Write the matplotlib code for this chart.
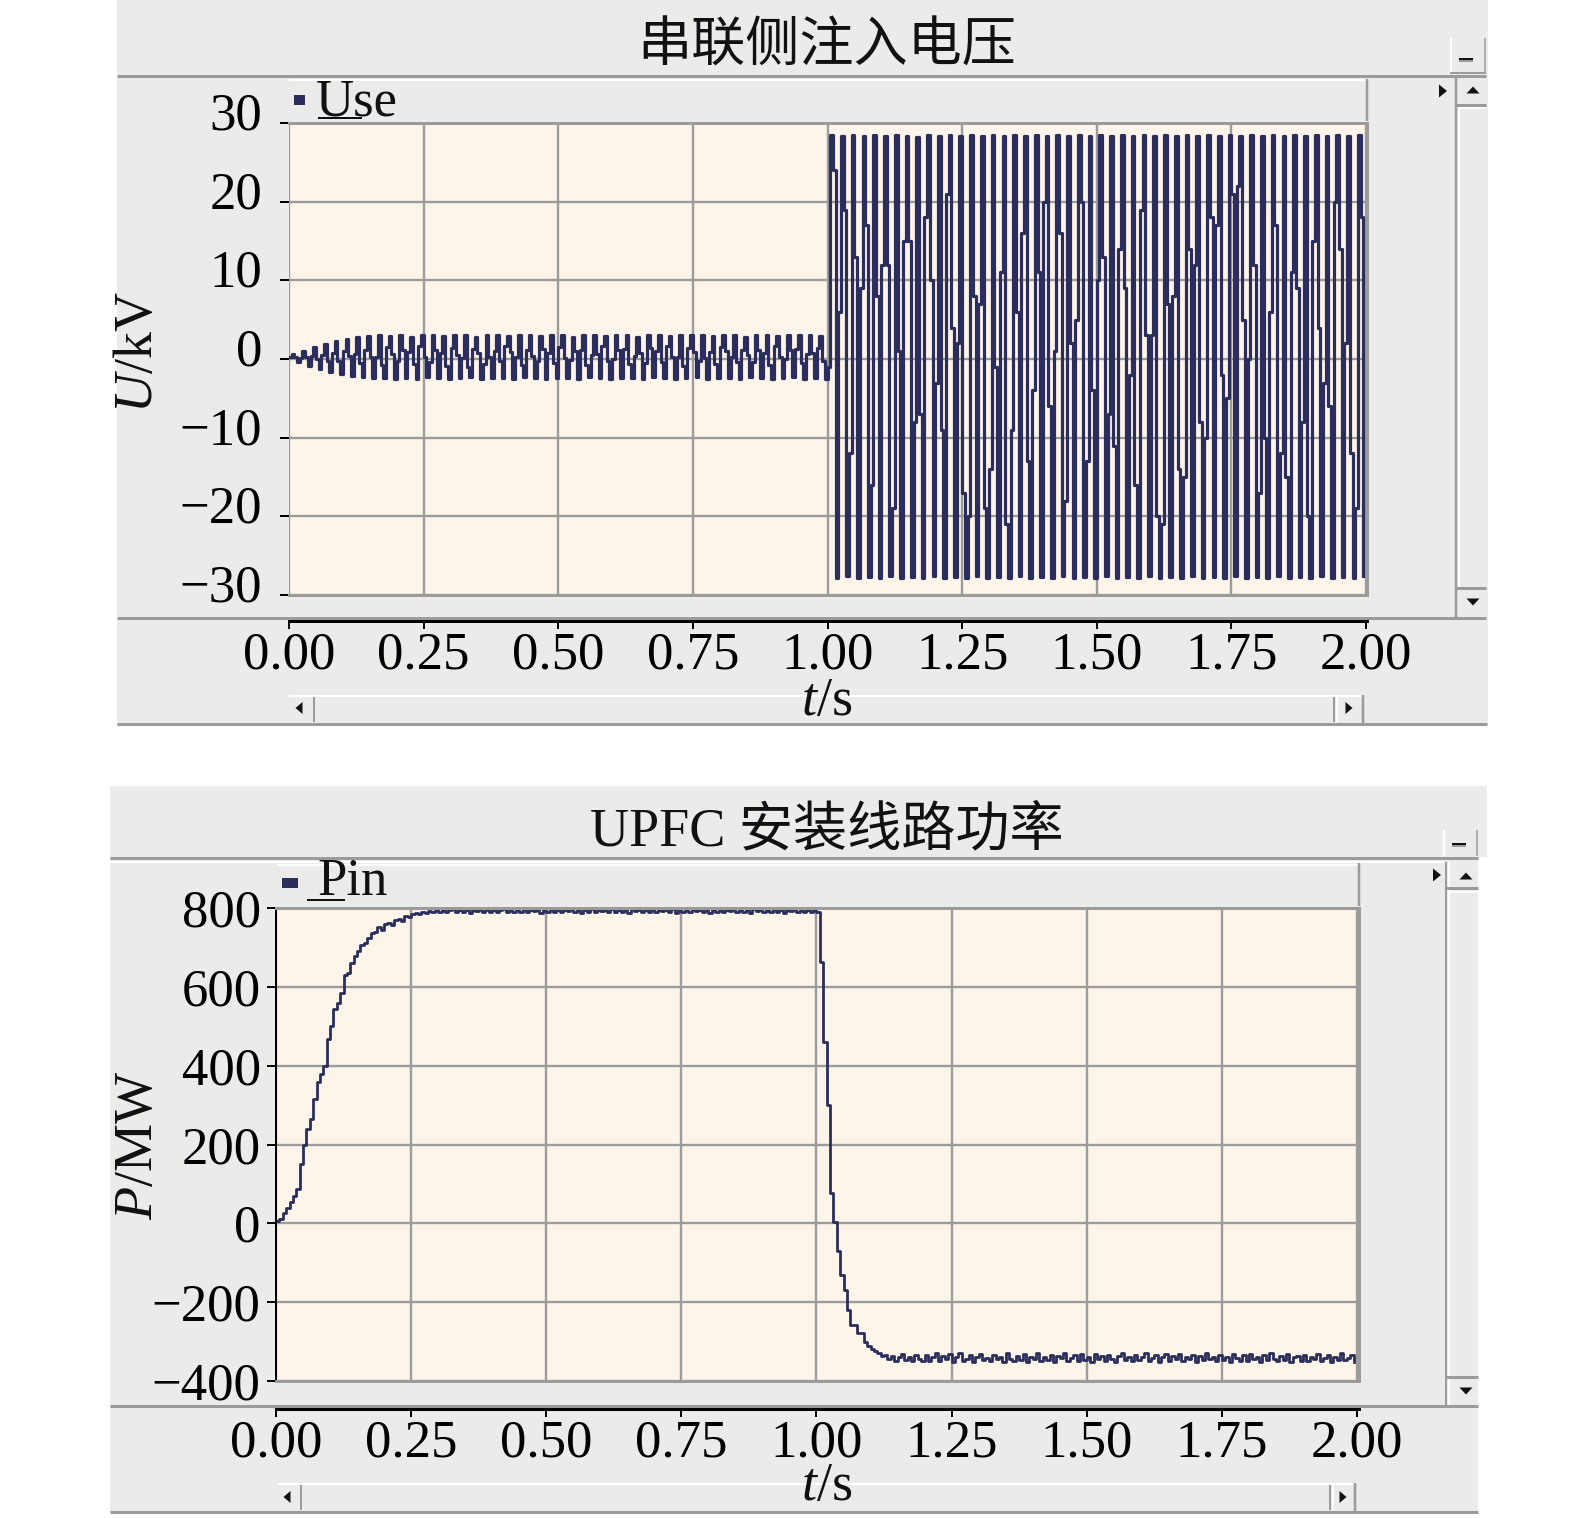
import numpy as np
import matplotlib
matplotlib.use('Agg')
import matplotlib.pyplot as plt
from matplotlib.patches import Rectangle, Polygon
from matplotlib.lines import Line2D
import matplotlib.transforms as mtransforms

plt.rcParams['font.family'] = ['Liberation Serif', 'Noto Sans CJK SC']
plt.rcParams['mathtext.fontset'] = 'custom'
plt.rcParams['mathtext.rm'] = 'Liberation Serif'
plt.rcParams['mathtext.it'] = 'Liberation Serif:italic'

# ---------------- data ----------------
use_title = '串联侧注入电压'
pin_title = 'UPFC 安装线路功率'
use_name = 'Use'
pin_name = 'Pin'

time_ticks = [0.0, 0.25, 0.5, 0.75, 1.0, 1.25, 1.5, 1.75, 2.0]
time_labels = ['0.00', '0.25', '0.50', '0.75', '1.00', '1.25', '1.50', '1.75', '2.00']
use_ticks = [-30, -20, -10, 0, 10, 20, 30]
use_tick_labels = ['\u221230', '\u221220', '\u221210', '0', '10', '20', '30']
pin_ticks = [-400, -200, 0, 200, 400, 600, 800]
pin_tick_labels = ['\u2212400', '\u2212200', '0', '200', '400', '600', '800']

# series-side injected voltage (kV), sampled every use_dt seconds
use_dt = 0.005
use_kv = [
    0.2, 0.6, 0.3, -0.4, 0.1, 1.0, 0.2, -0.9, 0.4, 1.5, 0.0, -1.3, 0.5, 1.9, -0.3, -1.6, 0.8, 2.3, -0.2, -1.9,
    1.0, 2.6, 0.4, -2.1, 0.6, 2.8, -0.5, -2.3, 1.2, 2.9, 0.2, -2.4, 0.3, 3.0, -0.8, -2.4, 1.5, 2.9, 0.6, -2.5,
    -0.2, 3.0, 1.1, -2.4, 0.9, 2.8, -0.6, -2.5, 1.6, 3.0, 0.3, -2.3, -0.4, 3.1, 1.2, -2.4, 0.7, 2.9, -0.9, -2.5,
    1.4, 3.0, 0.5, -2.4, 0.1, 3.0, -1.0, -2.3, 1.3, 2.8, 0.8, -2.5, -0.6, 3.1, 0.2, -2.4, 1.0, 3.0, -0.3, -2.4,
    1.7, 2.9, 0.9, -2.5, 0.2, 3.0, -0.7, -2.3, 1.1, 3.1, 0.4, -2.4, -0.3, 2.9, 1.3, -2.5, 0.8, 3.0, -0.5, -2.4,
    1.5, 3.0, 0.1, -2.4, -0.1, 2.8, 1.0, -2.5, 1.2, 3.0, -0.8, -2.3, 0.5, 3.1, 0.6, -2.4, 1.6, 2.9, -0.2, -2.5,
    0.0, 3.0, 1.1, -2.4, 1.3, 3.0, -0.6, -2.4, 0.4, 2.8, 0.7, -2.5, -0.5, 3.1, 1.4, -2.3, 1.0, 3.0, -0.4, -2.4,
    1.6, 2.9, 0.3, -2.5, 0.2, 3.0, -0.9, -2.4, 1.4, 3.0, 0.9, -2.3, -0.2, 3.1, 0.1, -2.5, 0.9, 2.9, -0.6, -2.4,
    1.5, 3.0, 1.0, -2.4, 0.3, 3.0, -0.4, -2.5, 1.2, 2.8, 0.5, -2.3, -0.4, 3.1, 1.2, -2.4, 0.7, 3.0, -0.8, -2.5,
    1.6, 2.9, 0.2, -2.4, 0.0, 3.0, 1.1, -2.3, 1.3, 3.1, -0.5, -2.5, 0.6, 3.0, 0.8, -2.4, 1.4, 2.9, -0.3, -2.6,
    -1, 28.5, 24, -27.8, 6, 28.3, 19, -27.6, -12, 28.5, 13, -27.8, 9, 28.4, 17, -27.7, -16, 28.5, 8, -27.8,
    12, 28.3, 12, -27.6, -19, 28.5, 1, -27.8, 15, 28.4, 15, -27.7, -8, 28.2, -7, -27.8, 18, 28.5, 10, -27.6,
    -3, 28.4, -9, -27.8, 21, 28.5, 4, -27.7, 2, 28.3, -17, -27.8, -20, 28.5, 8, -27.6, 7, 28.4, -19, -27.8,
    -14, 28.5, -1, -27.7, 11, 28.3, -21, -27.8, -9, 28.5, 6, -27.6, 16, 28.4, -13, -27.8, -4, 28.5, 11, -27.7,
    20, 28.3, -6, -27.8, 1, 28.5, 16, -27.6, -18, 28.4, 2, -27.8, 5, 28.5, 20, -27.7, -13, 28.3, -4, -27.8,
    10, 28.5, 13, -27.6, -7, 28.4, -11, -27.8, 14, 28.5, 9, -27.7, -2, 28.3, -16, -27.8, 19, 28.5, 3, -27.6,
    3, 28.4, -20, -27.8, -21, 28.5, 7, -27.7, 8, 28.3, -14, -27.8, -15, 28.5, 14, -27.6, 12, 28.4, -8, -27.8,
    -10, 28.5, 18, -27.7, 17, 28.3, -2, -27.8, -5, 28.5, 21, -27.6, 22, 28.4, 5, -27.8, 0, 28.5, 12, -27.7,
    -17, 28.3, -10, -27.8, 6, 28.5, 17, -27.6, -12, 28.4, -15, -27.8, 11, 28.5, 9, -27.7, -8, 28.3, -20, -27.8,
    15, 28.5, 4, -27.6, -3, 28.4, -6, -27.8, 20, 28.5, 14, -27.7, 2, 28.3, -12, -27.8, -19, 28.5, 18, -27.6,
]

# line power of UPFC installed line (MW), sampled every pin_dt seconds
pin_dt = 0.00625
pin_mw = [
    5, 12, 25, 40, 55, 70, 88, 150, 198, 240, 265, 315, 358, 380, 400, 467,
    500, 543, 560, 585, 631, 635, 660, 677, 690, 705, 711, 725, 737, 740, 752, 745,
    760, 762, 758, 770, 773, 768, 780, 777, 785, 788, 784, 791, 787, 793, 789, 794,
    790, 796, 789, 795, 797, 790, 796, 791, 795, 788, 796, 792, 797, 789, 795, 791,
    796, 790, 795, 797, 789, 796, 791, 795, 790, 797, 789, 796, 792, 795, 788, 796,
    791, 797, 790, 795, 789, 796, 792, 797, 790, 795, 788, 796, 791, 797, 789, 795,
    792, 796, 789, 797, 791, 795, 790, 796, 788, 797, 792, 795, 789, 796, 791, 797,
    789, 795, 792, 796, 790, 797, 788, 795, 791, 796, 789, 797, 792, 795, 790, 796,
    788, 797, 791, 795, 789, 796, 792, 797, 790, 795, 791, 796, 788, 797, 792, 795,
    790, 796, 789, 797, 791, 795, 788, 796, 792, 797, 789, 795, 791, 796, 790, 794,
    790, 664, 459, 299, 76, 4, -71, -130, -168, -219, -257, -257, -278, -278, -300, -311,
    -318, -324, -330, -336, -333, -344, -336, -349, -340, -331, -347, -338, -350, -333, -343, -348,
    -335, -348, -340, -329, -350, -337, -345, -332, -351, -339, -330, -348, -343, -334, -352, -338,
    -331, -347, -341, -350, -333, -345, -338, -352, -330, -343, -349, -336, -347, -332, -351, -340,
    -344, -329, -349, -338, -346, -333, -351, -337, -342, -330, -348, -341, -335, -350, -332, -347,
    -339, -351, -331, -345, -337, -349, -334, -343, -352, -336, -329, -347, -340, -350, -333, -346,
    -338, -330, -349, -342, -335, -351, -340, -332, -348, -337, -345, -331, -350, -339, -343, -334,
    -352, -336, -347, -329, -344, -340, -350, -333, -346, -338, -351, -332, -342, -348, -335, -349,
    -331, -345, -339, -352, -334, -347, -330, -343, -349, -337, -346, -332, -351, -340, -336, -348,
    -333, -350, -338, -344, -331, -349, -341, -335, -352, -339, -346, -330, -347, -342, -334, -351,
]

# ---------------- style ----------------
W, H = 1575, 1518
PX = 0.72  # points per pixel at dpi 100
GRAY = '#ebebe9'
LINE = '#9b9b9b'
WHITE = '#ffffff'
CREAM = '#fdf5e9'
NAVY = '#2b2e5c'
GRID = '#9c9c9c'

fig = plt.figure(figsize=(W / 100, H / 100), dpi=100)
fig.patch.set_facecolor('white')


def R(x0, y0, x1, y1, color, z=-5):
    fig.add_artist(Rectangle((x0 / W, 1 - y1 / H), (x1 - x0) / W, (y1 - y0) / H,
                             transform=fig.transFigure, facecolor=color,
                             edgecolor='none', zorder=z))


def L(xs, ys, color, lw_px, z=1):
    fig.add_artist(Line2D([x / W for x in xs], [1 - y / H for y in ys],
                          transform=fig.transFigure, color=color,
                          linewidth=lw_px * PX, solid_capstyle='butt', zorder=z))


def T(cx, cy, w, h, d, z=2):
    if d == 'right':
        pts = [(cx - w / 2, cy - h / 2), (cx - w / 2, cy + h / 2), (cx + w / 2, cy)]
    elif d == 'left':
        pts = [(cx + w / 2, cy - h / 2), (cx + w / 2, cy + h / 2), (cx - w / 2, cy)]
    elif d == 'up':
        pts = [(cx - w / 2, cy + h / 2), (cx + w / 2, cy + h / 2), (cx, cy - h / 2)]
    else:
        pts = [(cx - w / 2, cy - h / 2), (cx + w / 2, cy - h / 2), (cx, cy + h / 2)]
    fig.add_artist(Polygon([(x / W, 1 - y / H) for x, y in pts], closed=True,
                           transform=fig.transFigure, facecolor='#111111',
                           edgecolor='none', zorder=z))


def FT(x, y, s, **kw):
    fig.text(x / W, 1 - y / H, s, **kw)


def panel(ax, times, values, xmax, ylim, yticks, ylabels, left_black, ytick_pad, ylab_shift,
          axis_loc, lw):
    ax.set_facecolor(CREAM)
    ax.step(times, values, where='post', color=NAVY, linewidth=lw, zorder=2)
    ax.set_xlim(0, xmax)
    ax.set_ylim(*ylim)
    ax.set_xticks(time_ticks)
    ax.set_yticks(yticks, labels=ylabels)
    ax.grid(True, color=GRID, linewidth=1.7)
    ax.set_axisbelow(True)
    ax.tick_params(axis='x', length=0, labelbottom=False)
    ax.tick_params(axis='y', direction='out', length=9 * PX, width=2 * PX, colors='black',
                   labelsize=38, pad=ytick_pad)
    for s in ['top', 'right', 'bottom']:
        ax.spines[s].set_color(LINE)
        ax.spines[s].set_linewidth(3 * PX)
    if left_black:
        ax.spines['left'].set_color('black')
        ax.spines['left'].set_linewidth(2 * PX)
    else:
        ax.spines['left'].set_visible(False)
    if ylab_shift:
        off = mtransforms.ScaledTranslation(0, ylab_shift / 100, fig.dpi_scale_trans)
        for lab in ax.get_yticklabels():
            lab.set_transform(lab.get_transform() + off)
    sec = ax.secondary_xaxis(axis_loc)
    sec.set_xticks(time_ticks, labels=time_labels)
    sec.tick_params(axis='x', direction='out', length=8 * PX, width=2 * PX, colors='black',
                    labelsize=38, pad=2)
    sec.spines['bottom'].set_color('black')
    sec.spines['bottom'].set_linewidth(3 * PX)


# ---------------- top panel chrome ----------------
R(117, 0, 1488, 725, GRAY)
L([117, 1486], [75.5, 75.5], LINE, 3)
L([1451, 1451], [38, 72], WHITE, 2)
L([1450, 1486], [73, 73], LINE, 2)
L([1485, 1485], [38, 73], LINE, 1.5)
L([1459, 1473], [58.5, 58.5], '#111111', 2)
L([1459, 1473], [60.5, 60.5], LINE, 2)
L([289, 1366], [80, 80], WHITE, 2)
L([1366.5, 1366.5], [79, 121], LINE, 2.5)
R(294, 95, 305, 105, NAVY, z=2)
FT(316, 115, use_name, fontsize=38, ha='left', va='baseline', color='#111111')
L([318, 362], [118, 118], '#111111', 2)
T(1443, 91, 8, 13, 'right')
L([1456, 1456], [78, 617], LINE, 2.5)
L([1459, 1459], [108, 588], WHITE, 2)
T(1473, 90, 13, 7, 'up')
L([1456, 1486], [104.5, 104.5], LINE, 3)
L([1459, 1486], [108, 108], WHITE, 2)
L([1456, 1486], [588, 588], LINE, 3)
T(1473, 602, 13, 7, 'down')
L([117, 1486], [617.5, 617.5], LINE, 3)
L([289, 1363], [696, 696], WHITE, 2)
L([314, 314], [697, 722], LINE, 2)
L([1334, 1334], [697, 722], LINE, 2)
L([1337, 1337], [697, 722], WHITE, 2)
L([1363, 1363], [695, 723], LINE, 2.5)
T(299, 708, 7, 12, 'left')
T(1349, 708, 7, 12, 'right')
L([117, 1487], [724, 724], LINE, 3)
FT(827, 48, use_title, fontsize=39, ha='center', va='center', color='#111111')
FT(139, 352, r'$\mathit{U}$/kV', fontsize=39, rotation=90, ha='center', va='center',
   color='#111111')
FT(827, 702, r'$\mathit{t}$/s', fontsize=39, ha='center', va='center', color='#111111')

# ---------------- bottom panel chrome ----------------
R(110, 786, 1487, 857, GRAY)
R(110, 857, 1478, 1513, GRAY)
L([110, 1478], [857.5, 857.5], LINE, 3)
L([110, 1443], [861.5, 861.5], WHITE, 2)
L([1444, 1444], [830, 856], WHITE, 2)
L([1477, 1477], [830, 856], LINE, 1.5)
L([1452, 1466], [844, 844], '#111111', 2)
L([1452, 1466], [846, 846], LINE, 2)
L([277, 1358], [865, 865], WHITE, 2)
L([1358.5, 1358.5], [863, 906], LINE, 2.5)
R(282, 878, 298, 888, NAVY, z=2)
FT(317, 895, pin_name, fontsize=38, ha='left', va='baseline', color='#111111')
L([307, 345], [900, 900], '#111111', 2)
T(1437, 875, 8, 13, 'right')
L([1446, 1446], [862, 1406], LINE, 2)
L([1449, 1449], [862, 1406], WHITE, 2)
T(1466, 876, 13, 7, 'up')
L([1446, 1478], [888, 888], LINE, 3)
L([1449, 1478], [892, 892], WHITE, 2)
L([1446, 1478], [1377, 1377], LINE, 3)
T(1466, 1391, 13, 7, 'down')
L([110, 1478], [1406, 1406], LINE, 3)
L([277, 1356], [1484, 1484], WHITE, 2)
L([301, 301], [1485, 1510], LINE, 2)
L([1330, 1330], [1485, 1510], LINE, 2)
L([1333, 1333], [1485, 1510], WHITE, 2)
L([1355, 1355], [1483, 1511], LINE, 2.5)
T(287, 1497, 7, 12, 'left')
T(1343, 1497, 7, 12, 'right')
L([110, 1478], [1512, 1512], LINE, 3)
FT(827, 832, pin_title, fontsize=39, ha='center', va='center', color='#111111')
FT(139, 1145, r'$\mathit{P}$/MW', fontsize=39, rotation=90, ha='center', va='center',
   color='#111111')
FT(827, 1487, r'$\mathit{t}$/s', fontsize=39, ha='center', va='center', color='#111111')

# ---------------- plots ----------------
ax1 = fig.add_axes([289 / W, 1 - 595 / H, (1367 - 289) / W, (595 - 123) / H])
t_use = np.arange(len(use_kv)) * use_dt
panel(ax1, t_use, use_kv, 2 * (1367 - 289) / (1366 - 289), (-30, 30), use_ticks,
      use_tick_labels, False, 13, 12, -(621 - 595) / (595 - 123), 2.3)

ax2 = fig.add_axes([276 / W, 1 - 1381 / H, (1359 - 276) / W, (1381 - 908) / H])
t_pin = np.arange(len(pin_mw)) * pin_dt
panel(ax2, t_pin, pin_mw, 2 * (1359 - 276) / (1357 - 276), (-400, 800), pin_ticks,
      pin_tick_labels, True, 4.5, 0, -(1409 - 1381) / (1381 - 908), 2.0)

fig.savefig('out.png', dpi=100, facecolor='white')
